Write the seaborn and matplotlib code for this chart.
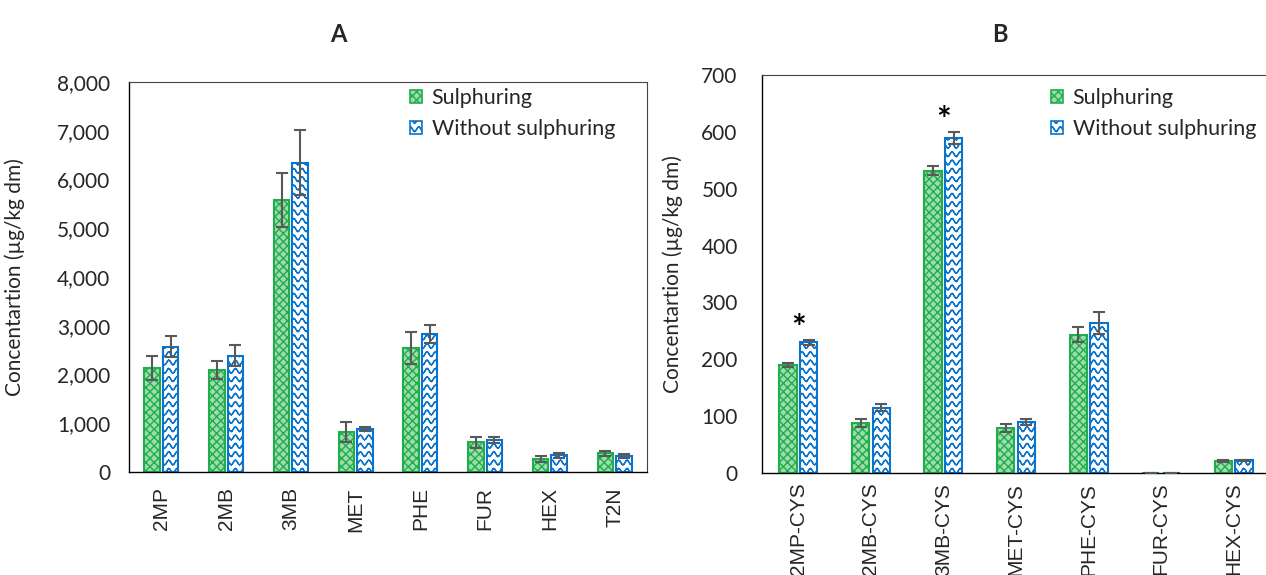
import warnings

import numpy as np
import pandas as pd
import matplotlib
matplotlib.use("Agg")
import matplotlib.pyplot as plt
import matplotlib.hatch as mhatch
import matplotlib.patches as mpatches
from matplotlib.path import Path
from matplotlib.ticker import FuncFormatter, FixedLocator
import seaborn as sns

# 'w' is our own wave hatch, not one of matplotlib's built-in characters
warnings.filterwarnings("ignore", category=matplotlib.MatplotlibDeprecationWarning)

# ---------------------------------------------------------------- data
groups = ["Sulphuring", "Without sulphuring"]

compounds_a = ["2MP", "2MB", "3MB", "MET", "PHE", "FUR", "HEX", "T2N"]
sulph_a = [2130, 2090, 5580, 830, 2540, 610, 270, 385]
sulph_a_err = [240, 190, 550, 205, 330, 115, 60, 55]
nosulph_a = [2570, 2385, 6345, 875, 2830, 655, 340, 330]
nosulph_a_err = [220, 210, 670, 40, 185, 60, 50, 35]

compounds_b = ["2MP-CYS", "2MB-CYS", "3MB-CYS", "MET-CYS", "PHE-CYS", "FUR-CYS", "HEX-CYS"]
sulph_b = [190, 88, 532, 79, 243, 0, 21]
sulph_b_err = [3, 7, 8, 7, 13, 0, 1]
nosulph_b = [230, 115, 589, 90, 264, 0, 22]
nosulph_b_err = [4, 6, 10, 5, 20, 0, 1.5]

significant_b = ["2MP-CYS", "3MB-CYS"]

yticks_a = [0, 1000, 2000, 3000, 4000, 5000, 6000, 7000, 8000]
yticks_b = [0, 100, 200, 300, 400, 500, 600, 700]


# ---------------------------------------------------------------- wave hatch
class WaveHatch(mhatch.HatchPatternBase):
    """Rows of small sine waves, built from separate short segments so the
    hatch renderer has no enclosed area to fill."""

    def __init__(self, hatch, density):
        self.num_rows = int(hatch.count("w") * density)
        self.seg_per_row = self.num_rows * 8
        self.num_vertices = self.num_rows * self.seg_per_row * 2

    def set_vertices_and_codes(self, vertices, codes):
        n = self.num_rows
        t = np.linspace(0.0, 1.0, self.seg_per_row + 1)
        amp = 0.28 / n
        block_len = self.seg_per_row * 2
        for i in range(n):
            y = (i + 0.5) / n + amp * np.sin(2 * np.pi * n * t)
            s = i * block_len
            block = vertices[s:s + block_len]
            block[0::2, 0] = t[:-1]
            block[0::2, 1] = y[:-1]
            block[1::2, 0] = t[1:]
            block[1::2, 1] = y[1:]
            codes[s:s + block_len:2] = Path.MOVETO
            codes[s + 1:s + block_len:2] = Path.LINETO


mhatch._hatch_types.append(WaveHatch)

# ---------------------------------------------------------------- styling
sns.set_style("white")
plt.rcParams["font.family"] = ["Lato", "DejaVu Sans"]
plt.rcParams["hatch.linewidth"] = 1.0

GREEN = "#1fae4b"
BLUE = "#0a74cc"
ERR = "#595959"
bar_styles = {
    "Sulphuring": dict(facecolor="#9edbad", edgecolor=GREEN, hatch="xxxx"),
    "Without sulphuring": dict(facecolor="white", edgecolor=BLUE, hatch="ww"),
}


def long_frame(cats, s, ns):
    return pd.DataFrame({
        "compound": cats * 2,
        "conc": list(s) + list(ns),
        "treatment": [groups[0]] * len(cats) + [groups[1]] * len(cats),
    })


def draw_panel(ax, cats, s, s_err, ns, ns_err, yticks, ylab_x, ytick_pad, xtick_pad, legend_anchor):
    df = long_frame(cats, s, ns)
    sns.barplot(data=df, x="compound", y="conc", hue="treatment",
                order=cats, hue_order=groups, palette=[GREEN, BLUE],
                saturation=1, width=0.57, gap=0.16, errorbar=None,
                legend=False, ax=ax, zorder=2)

    values = {groups[0]: (s, s_err), groups[1]: (ns, ns_err)}
    for group, container in zip(groups, ax.containers):
        vals, errs = values[group]
        xs, ys, es = [], [], []
        for patch in container.patches:
            patch.set(linewidth=1.5, **bar_styles[group])
            cx = patch.get_x() + patch.get_width() / 2
            idx = int(round(cx))
            xs.append(cx)
            ys.append(vals[idx])
            es.append(errs[idx])
        ax.errorbar(xs, ys, yerr=es, fmt="none", ecolor=ERR,
                    elinewidth=1.5, capsize=4.3, capthick=1.5, zorder=3)

    n = len(cats)
    ax.set_xlim(-0.5, n - 0.5)
    ax.set_ylim(yticks[0], yticks[-1])
    ax.set_yticks(yticks)
    ax.set_xticks(range(n), cats, rotation=90, fontsize=15,
                  family=["Liberation Sans", "DejaVu Sans"])
    ax.xaxis.set_minor_locator(FixedLocator(np.arange(n + 1) - 0.5))
    ax.tick_params(axis="x", which="major", length=0, pad=xtick_pad)
    ax.tick_params(axis="x", which="minor", length=5.5, width=1.0,
                   direction="out", color="black")
    ax.tick_params(axis="y", which="major", length=5.5, width=1.0,
                   direction="out", color="black", labelsize=15, pad=ytick_pad)
    ax.set_xlabel("")
    ax.set_ylabel("Concentartion (µg/kg dm)", fontsize=15)
    ax.yaxis.set_label_coords(ylab_x, 0.5)

    for side in ("left", "bottom"):
        ax.spines[side].set_color("black")
        ax.spines[side].set_linewidth(1.0)
    for side in ("top", "right"):
        ax.spines[side].set_visible(True)
        ax.spines[side].set_color("#444444")
        ax.spines[side].set_linewidth(0.8)

    handles = [mpatches.Patch(linewidth=1.2, label=g, **bar_styles[g]) for g in groups]
    ax.legend(handles=handles, loc="upper left", bbox_to_anchor=legend_anchor,
              bbox_transform=ax.figure.transFigure, frameon=False,
              fontsize=15.5, borderpad=0, borderaxespad=0,
              handlelength=0.55, handleheight=0.55, handletextpad=0.45,
              labelspacing=0.5)


fig = plt.figure(figsize=(12.66, 5.75), dpi=100)
W, H = 1266, 575

ax_a = fig.add_axes([129 / W, (H - 472) / H, (647 - 129) / W, (472 - 82) / H])
ax_b = fig.add_axes([762 / W, (H - 473) / H, (1270 - 762) / W, (473 - 75) / H])

draw_panel(ax_a, compounds_a, sulph_a, sulph_a_err, nosulph_a, nosulph_a_err,
           yticks_a, ylab_x=-0.2, ytick_pad=8, xtick_pad=11,
           legend_anchor=(410 / W, (H - 88) / H))
ax_a.yaxis.set_major_formatter(FuncFormatter(lambda v, _: f"{v:,.0f}"))

draw_panel(ax_b, compounds_b, sulph_b, sulph_b_err, nosulph_b, nosulph_b_err,
           yticks_b, ylab_x=-0.155, ytick_pad=12, xtick_pad=7,
           legend_anchor=(1051 / W, (H - 88) / H))

# significance marks above the untreated bars
for comp in significant_b:
    i = compounds_b.index(comp)
    top = nosulph_b[i] + nosulph_b_err[i]
    ax_b.annotate("*", xy=(i, top), xytext=(0, 1), textcoords="offset points",
                  ha="center", va="baseline", fontsize=25, fontweight="bold",
                  color="black")

fig.text(338 / W, 1 - 35 / H, "A", ha="center", va="center",
         fontsize=17, fontweight="bold")
fig.text(1000 / W, 1 - 35 / H, "B", ha="center", va="center",
         fontsize=17, fontweight="bold")

fig.savefig("out.png", dpi=100)
